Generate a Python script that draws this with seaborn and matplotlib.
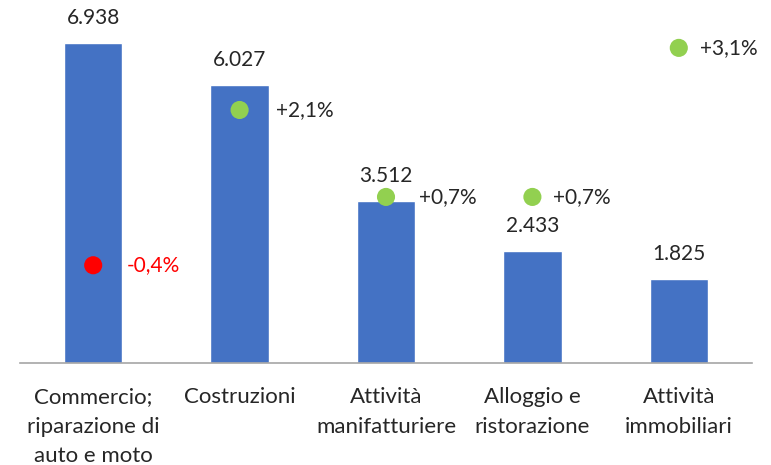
import numpy as np
import pandas as pd
import matplotlib
matplotlib.use("Agg")
import matplotlib.pyplot as plt
import seaborn as sns

categories = [
    "Commercio;\nriparazione di\nauto e moto",
    "Costruzioni",
    "Attività\nmanifatturiere",
    "Alloggio e\nristorazione",
    "Attività\nimmobiliari",
]
values = [6938, 6027, 3512, 2433, 1825]
value_labels = ["6.938", "6.027", "3.512", "2.433", "1.825"]
changes = [-0.4, 2.1, 0.7, 0.7, 3.1]
change_labels = ["-0,4%", "+2,1%", "+0,7%", "+0,7%", "+3,1%"]

BAR = "#4472C4"
GREEN = "#92D050"
RED = "#FF0000"
TEXT = "#262626"

sns.set_style("white")
plt.rcParams["font.family"] = ["Lato", "DejaVu Sans"]

df = pd.DataFrame({"cat": categories, "val": values, "chg": changes})
df["pos"] = np.arange(len(df))

fig = plt.figure(figsize=(7.71, 4.65), dpi=100)
ax = fig.add_axes([20 / 771, 102 / 465, 732 / 771, 353 / 465])

sns.barplot(data=df, x="cat", y="val", color=BAR, width=0.4, saturation=1, ax=ax)
ax.set_ylim(0, 7653)
ax.set_xlim(-0.5, len(df) - 0.5)
ax.set_xlabel("")
ax.set_ylabel("")
ax.set_yticks([])
for s in ["top", "right", "left"]:
    ax.spines[s].set_visible(False)
ax.spines["bottom"].set_color("#A6A6A6")
ax.spines["bottom"].set_linewidth(1.2)

ax.set_xticks(df["pos"])
ax.set_xticklabels(categories, fontsize=16, color=TEXT, linespacing=1.62)
ax.tick_params(axis="x", which="major", length=0, pad=17)
ax.set_xticks(np.arange(len(df) + 1) - 0.5, minor=True)
ax.tick_params(axis="x", which="minor", length=6, width=1.2, color="#A6A6A6")

for i, (v, lab) in enumerate(zip(values, value_labels)):
    ax.annotate(lab, (i, v), xytext=(0, 18), textcoords="offset points",
                ha="center", va="center", fontsize=15, color=TEXT)

ax2 = ax.twinx()
ax2.set_ylim(-1.974, 3.71)
dot_colors = [RED if c < 0 else GREEN for c in changes]
sns.scatterplot(x=df["pos"], y=df["chg"], hue=df["pos"], palette=dot_colors,
                s=170, edgecolor="none", legend=False, ax=ax2)
ax2.set_yticks([])
ax2.set_ylabel("")
for s in ["top", "right", "left", "bottom"]:
    ax2.spines[s].set_visible(False)

offsets = [24, 26, 24, 15, 15]
for i, (c, lab) in enumerate(zip(changes, change_labels)):
    ax2.annotate(lab, (i, c), xytext=(offsets[i], 0), textcoords="offset points",
                 ha="left", va="center", fontsize=15,
                 color=RED if c < 0 else TEXT)

fig.savefig("out.png", dpi=100)
